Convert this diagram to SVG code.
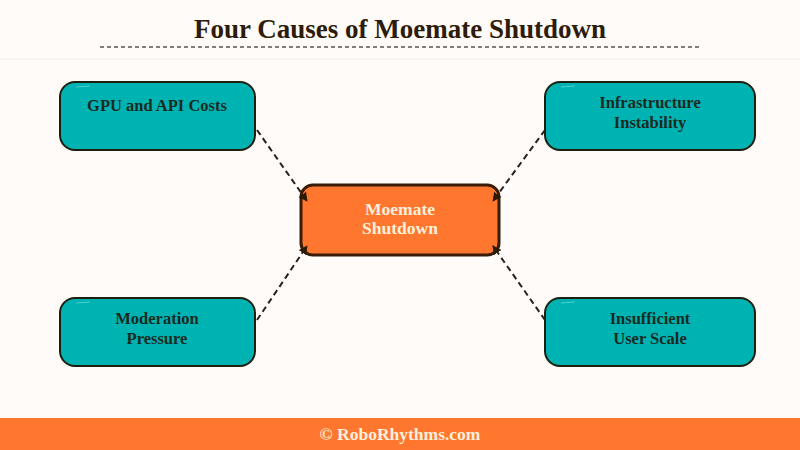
<svg xmlns="http://www.w3.org/2000/svg" width="800" height="450" viewBox="0 0 800 450">
<defs>
<style>
.t{font-family:"Liberation Serif","DejaVu Serif",serif;font-weight:bold;text-anchor:middle}
.cause rect{fill:#00b3b3;stroke:#1c1f10;stroke-width:2}
.cause text{fill:#1a2a1f;font-size:16.5px}
.conn{stroke:#2a2218;stroke-width:2;stroke-dasharray:6,4;fill:none}
.hl{stroke:#4fcfcf;stroke-width:1;fill:none}
</style>
<marker id="ah" viewBox="0 0 10 10" refX="9" refY="5" markerWidth="9" markerHeight="9" orient="auto" markerUnits="userSpaceOnUse">
<path d="M0,0 L10,5 L0,10 z" fill="#2a1a08"/>
</marker>
</defs>
<rect width="800" height="450" fill="#fefbf9"/>
<text class="t" x="400" y="38" font-size="27" fill="#2e1c08">Four Causes of Moemate Shutdown</text>
<line x1="100" y1="47" x2="700" y2="47" stroke="#555" stroke-width="1.5" stroke-dasharray="4,3"/>
<line x1="0" y1="59" x2="800" y2="59" stroke="#f0ece8" stroke-width="1"/>
<g id="gpu" class="cause">
<rect x="60" y="82" width="195" height="68" rx="15"/>
<path class="hl" d="M76,87 L90,86"/>
<text class="t" x="157" y="111">GPU and API Costs</text>
</g>
<g id="infra" class="cause">
<rect x="545" y="82" width="210" height="68" rx="15"/>
<path class="hl" d="M561,87 L575,86"/>
<text class="t" x="650" y="108">Infrastructure</text>
<text class="t" x="650" y="128">Instability</text>
</g>
<g id="moderation" class="cause">
<rect x="60" y="298" width="195" height="68" rx="15"/>
<path class="hl" d="M76,303 L90,302"/>
<text class="t" x="157" y="324">Moderation</text>
<text class="t" x="157" y="344">Pressure</text>
</g>
<g id="scale" class="cause">
<rect x="545" y="298" width="210" height="68" rx="15"/>
<path class="hl" d="M561,303 L575,302"/>
<text class="t" x="650" y="324">Insufficient</text>
<text class="t" x="650" y="344">User Scale</text>
</g>
<g id="center">
<rect x="301" y="185" width="198" height="70" rx="12" fill="#ff772e" stroke="#3a1c06" stroke-width="3"/>
<text class="t" x="400" y="215" font-size="17.5" fill="#fdf0dc">Moemate</text>
<text class="t" x="400" y="234" font-size="17.5" fill="#fdf0dc">Shutdown</text>
</g>
<g id="connectors">
<path class="conn" d="M257,130 L307,201" marker-end="url(#ah)"/>
<path class="conn" d="M545,130 L493,201" marker-end="url(#ah)"/>
<path class="conn" d="M257,320 L307,246" marker-end="url(#ah)"/>
<path class="conn" d="M545,320 L493,246" marker-end="url(#ah)"/>
</g>
<g id="footer">
<rect x="0" y="418" width="800" height="32" fill="#ff772e"/>
<text class="t" x="400" y="440" font-size="17.5" fill="#fdf0dc">© RoboRhythms.com</text>
</g>
</svg>
